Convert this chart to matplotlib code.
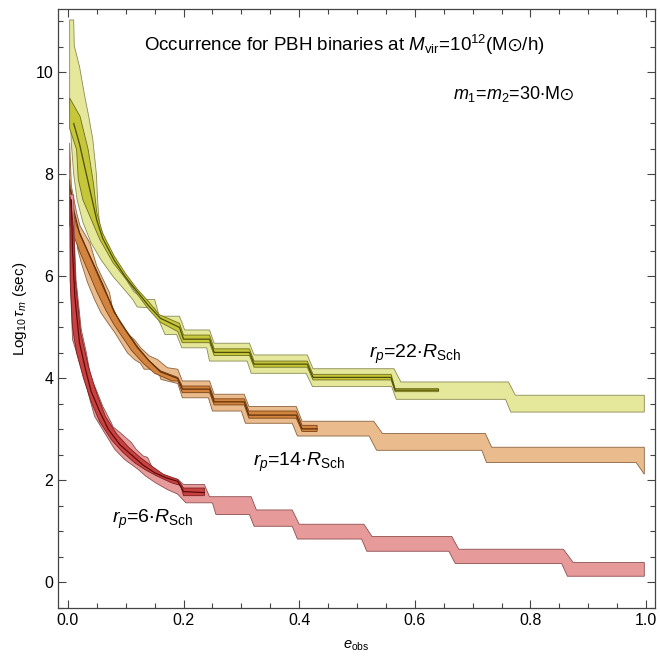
import matplotlib
matplotlib.use("Agg")
import matplotlib.pyplot as plt
from matplotlib.ticker import MultipleLocator

plt.rcParams['font.family'] = ['Liberation Sans', 'DejaVu Sans']
plt.rcParams['mathtext.fontset'] = 'custom'
plt.rcParams['mathtext.rm'] = 'Liberation Sans'
plt.rcParams['mathtext.it'] = 'Liberation Sans:italic'
plt.rcParams['mathtext.bf'] = 'Liberation Sans:bold'
plt.rcParams['mathtext.fallback'] = 'stixsans'

# r_p = 22 R_Sch (yellow)
yu_x = [0.003, 0.010, 0.011, 0.020, 0.029, 0.036, 0.043, 0.049, 0.052, 0.055, 0.072, 0.088, 0.103, 0.114, 0.124, 0.129, 0.150, 0.158, 0.193, 0.202, 0.245, 0.253, 0.314, 0.322, 0.414, 0.424, 0.564, 0.576, 0.762, 0.774, 0.997]
yu_y = [11.03, 11.03, 10.52, 10.12, 9.54, 9.14, 8.69, 8.04, 7.38, 6.99, 6.50, 6.20, 5.90, 5.70, 5.62, 5.55, 5.55, 5.22, 5.22, 4.95, 4.95, 4.69, 4.69, 4.46, 4.46, 4.19, 4.19, 3.93, 3.93, 3.67, 3.67]
yl_x = [0.003, 0.006, 0.010, 0.016, 0.026, 0.040, 0.057, 0.078, 0.097, 0.112, 0.120, 0.150, 0.158, 0.168, 0.188, 0.197, 0.240, 0.245, 0.310, 0.317, 0.412, 0.423, 0.560, 0.568, 0.757, 0.766, 0.997]
yl_y = [9.50, 8.60, 8.00, 7.50, 7.06, 6.66, 6.33, 6.00, 5.75, 5.55, 5.40, 5.38, 5.12, 4.86, 4.86, 4.60, 4.60, 4.34, 4.34, 4.10, 4.10, 3.84, 3.84, 3.59, 3.59, 3.34, 3.34]
ymu_x = [0.003, 0.021, 0.035, 0.044, 0.050, 0.060, 0.080, 0.100, 0.120, 0.140, 0.158, 0.193, 0.200, 0.245, 0.253, 0.314, 0.322, 0.414, 0.424, 0.559, 0.566, 0.641]
ymu_y = [9.50, 9.14, 8.49, 7.84, 7.25, 6.85, 6.40, 6.05, 5.75, 5.50, 5.25, 5.08, 4.85, 4.85, 4.58, 4.58, 4.34, 4.34, 4.08, 4.08, 3.80, 3.80]
yml_x = [0.003, 0.015, 0.018, 0.026, 0.038, 0.055, 0.078, 0.101, 0.120, 0.140, 0.160, 0.190, 0.198, 0.245, 0.253, 0.314, 0.322, 0.414, 0.424, 0.559, 0.566, 0.641]
yml_y = [8.90, 8.49, 7.90, 7.50, 7.18, 6.73, 6.27, 5.94, 5.65, 5.35, 5.10, 4.92, 4.70, 4.70, 4.45, 4.45, 4.22, 4.22, 3.97, 3.97, 3.74, 3.74]
yc_x = [0.010, 0.020, 0.030, 0.040, 0.050, 0.060, 0.080, 0.100, 0.120, 0.140, 0.160, 0.193, 0.200, 0.245, 0.253, 0.314, 0.322, 0.414, 0.424, 0.559, 0.566, 0.641]
yc_y = [9.00, 8.60, 8.10, 7.60, 7.10, 6.75, 6.32, 5.98, 5.70, 5.42, 5.18, 5.00, 4.77, 4.77, 4.51, 4.51, 4.28, 4.28, 4.02, 4.02, 3.77, 3.77]

# r_p = 14 R_Sch (orange)
ou_x = [0.003, 0.006, 0.015, 0.021, 0.038, 0.050, 0.072, 0.080, 0.095, 0.115, 0.126, 0.141, 0.155, 0.172, 0.190, 0.198, 0.245, 0.253, 0.305, 0.313, 0.395, 0.405, 0.529, 0.544, 0.722, 0.733, 0.997]
ou_y = [8.62, 7.77, 7.25, 6.99, 6.66, 6.20, 5.68, 5.22, 4.96, 4.76, 4.60, 4.44, 4.37, 4.21, 4.18, 3.95, 3.95, 3.69, 3.69, 3.45, 3.45, 3.16, 3.16, 2.92, 2.92, 2.65, 2.65]
ol_x = [0.003, 0.008, 0.014, 0.017, 0.023, 0.034, 0.046, 0.057, 0.069, 0.081, 0.092, 0.103, 0.115, 0.125, 0.132, 0.155, 0.161, 0.190, 0.198, 0.243, 0.250, 0.300, 0.307, 0.388, 0.397, 0.521, 0.534, 0.716, 0.724, 0.983, 0.997]
ol_y = [7.00, 6.98, 6.92, 6.53, 6.27, 5.88, 5.55, 5.29, 5.09, 4.90, 4.70, 4.50, 4.37, 4.30, 4.18, 4.18, 3.98, 3.90, 3.62, 3.62, 3.36, 3.36, 3.12, 3.12, 2.87, 2.87, 2.59, 2.59, 2.35, 2.35, 2.12]
omu_x = [0.003, 0.008, 0.015, 0.030, 0.045, 0.060, 0.075, 0.090, 0.105, 0.120, 0.140, 0.160, 0.190, 0.198, 0.245, 0.253, 0.305, 0.313, 0.395, 0.405, 0.431]
omu_y = [7.90, 7.30, 7.00, 6.60, 6.20, 5.80, 5.45, 5.10, 4.85, 4.60, 4.35, 4.15, 4.02, 3.85, 3.85, 3.60, 3.60, 3.36, 3.36, 3.08, 3.08]
oml_x = [0.003, 0.010, 0.020, 0.035, 0.050, 0.065, 0.080, 0.095, 0.110, 0.130, 0.150, 0.180, 0.190, 0.198, 0.245, 0.253, 0.305, 0.313, 0.395, 0.405, 0.431]
oml_y = [7.00, 6.80, 6.50, 6.10, 5.70, 5.35, 5.05, 4.80, 4.55, 4.30, 4.10, 3.95, 3.95, 3.72, 3.72, 3.48, 3.48, 3.22, 3.22, 2.96, 2.96]
oc_x = [0.005, 0.010, 0.020, 0.040, 0.060, 0.080, 0.100, 0.120, 0.140, 0.160, 0.190, 0.198, 0.245, 0.253, 0.305, 0.313, 0.395, 0.405, 0.431]
oc_y = [7.70, 7.30, 6.85, 6.35, 5.85, 5.30, 4.95, 4.62, 4.35, 4.13, 4.00, 3.79, 3.79, 3.54, 3.54, 3.28, 3.28, 3.01, 3.01]

# r_p = 6 R_Sch (red)
ru_x = [0.003, 0.010, 0.011, 0.014, 0.023, 0.032, 0.040, 0.046, 0.051, 0.060, 0.075, 0.078, 0.090, 0.110, 0.118, 0.130, 0.138, 0.147, 0.155, 0.167, 0.190, 0.200, 0.236, 0.245, 0.317, 0.326, 0.388, 0.400, 0.512, 0.526, 0.664, 0.676, 0.857, 0.874, 0.997]
ru_y = [7.60, 7.60, 6.80, 5.94, 4.96, 4.50, 3.98, 3.85, 3.72, 3.46, 3.13, 3.05, 2.94, 2.74, 2.61, 2.48, 2.45, 2.22, 2.18, 2.05, 2.02, 1.92, 1.92, 1.68, 1.68, 1.42, 1.42, 1.14, 1.14, 0.90, 0.90, 0.65, 0.65, 0.39, 0.39]
rl_x = [0.003, 0.004, 0.008, 0.017, 0.029, 0.038, 0.046, 0.063, 0.081, 0.098, 0.121, 0.135, 0.152, 0.172, 0.190, 0.204, 0.250, 0.256, 0.314, 0.322, 0.388, 0.397, 0.508, 0.517, 0.659, 0.670, 0.854, 0.864, 0.997]
rl_y = [7.60, 5.94, 4.76, 4.44, 3.98, 3.59, 3.26, 2.94, 2.61, 2.41, 2.22, 2.08, 1.95, 1.82, 1.73, 1.56, 1.56, 1.33, 1.33, 1.10, 1.10, 0.85, 0.85, 0.61, 0.61, 0.37, 0.37, 0.12, 0.12]
rmu_x = [0.004, 0.010, 0.013, 0.022, 0.035, 0.050, 0.065, 0.085, 0.105, 0.125, 0.145, 0.165, 0.190, 0.200, 0.236]
rmu_y = [7.57, 6.90, 5.90, 4.90, 4.25, 3.70, 3.25, 2.90, 2.65, 2.45, 2.28, 2.12, 2.02, 1.85, 1.85]
rml_x = [0.004, 0.008, 0.015, 0.027, 0.040, 0.055, 0.075, 0.095, 0.115, 0.135, 0.155, 0.180, 0.195, 0.200, 0.236]
rml_y = [5.90, 5.00, 4.50, 4.00, 3.55, 3.15, 2.80, 2.55, 2.35, 2.20, 2.08, 1.95, 1.90, 1.70, 1.70]
rc_x = [0.006, 0.008, 0.012, 0.020, 0.030, 0.040, 0.055, 0.070, 0.090, 0.110, 0.130, 0.150, 0.170, 0.190, 0.200, 0.236]
rc_y = [7.50, 6.50, 5.60, 4.70, 4.20, 3.75, 3.35, 3.00, 2.70, 2.50, 2.30, 2.15, 2.05, 1.98, 1.78, 1.76]


def band(ax, xu, yu, xl, yl, fc, ec, z):
    xs = list(xu) + list(xl)[::-1]
    ys = list(yu) + list(yl)[::-1]
    ax.fill(xs, ys, facecolor=fc, edgecolor=ec, lw=0.6, zorder=z)


fig = plt.figure(figsize=(6.6, 6.6), dpi=100)
ax = fig.add_axes([0.088, 0.079, 0.904, 0.907])

band(ax, yu_x, yu_y, yl_x, yl_y, '#e5e79b', '#8a8a55', 1)
band(ax, ymu_x, ymu_y, yml_x, yml_y, '#c6c63a', '#6e6e1e', 2)
ax.plot(yc_x, yc_y, color='#4d4d0a', lw=0.9, zorder=3)

band(ax, ou_x, ou_y, ol_x, ol_y, '#e9bb8d', '#8c6440', 4)
band(ax, omu_x, omu_y, oml_x, oml_y, '#d2843f', '#7a4215', 5)
ax.plot(oc_x, oc_y, color='#5e2e08', lw=0.9, zorder=6)

band(ax, ru_x, ru_y, rl_x, rl_y, '#e79a9a', '#8c5050', 7)
band(ax, rmu_x, rmu_y, rml_x, rml_y, '#c84242', '#7a1e1e', 8)
ax.plot(rc_x, rc_y, color='#5e0a0a', lw=0.9, zorder=9)

ax.set_xlim(-0.017, 1.015)
ax.set_ylim(-0.5, 11.24)
ax.xaxis.set_major_locator(MultipleLocator(0.2))
ax.xaxis.set_minor_locator(MultipleLocator(0.05))
ax.yaxis.set_major_locator(MultipleLocator(2))
ax.yaxis.set_minor_locator(MultipleLocator(0.5))
ax.set_xticks([0, 0.2, 0.4, 0.6, 0.8, 1.0])
ax.set_xticklabels(['0.0', '0.2', '0.4', '0.6', '0.8', '1.0'])
ax.tick_params(which='both', direction='in', top=True, right=True,
               color='#444444', labelsize=11.5, width=0.8)
ax.tick_params(which='major', length=6)
ax.tick_params(which='minor', length=3.5)
for s in ax.spines.values():
    s.set_color('#444444')
    s.set_linewidth(0.9)

ax.set_xlabel(r'$e_{\rm obs}$', fontsize=10.5, labelpad=8)
ax.set_ylabel(r'Log$_{10}\,\tau_m$ (sec)', fontsize=11, labelpad=5)

ax.text(0.478, 10.53, r'Occurrence for PBH binaries at $M_{\rm vir}$=10$^{12}$(M$\odot$/h)',
        fontsize=13.5, ha='center', va='center')
ax.text(0.875, 9.57, r'$m_1$=$m_2$=30$\cdot$M$\odot$', fontsize=13, ha='right', va='center')
ax.text(0.60, 4.47, r'$r_p$=22$\cdot R_{\rm Sch}$', fontsize=14, ha='center', va='center')
ax.text(0.40, 2.35, r'$r_p$=14$\cdot R_{\rm Sch}$', fontsize=14, ha='center', va='center')
ax.text(0.147, 1.24, r'$r_p$=6$\cdot R_{\rm Sch}$', fontsize=14, ha='center', va='center')

fig.savefig('out.png', dpi=100)
